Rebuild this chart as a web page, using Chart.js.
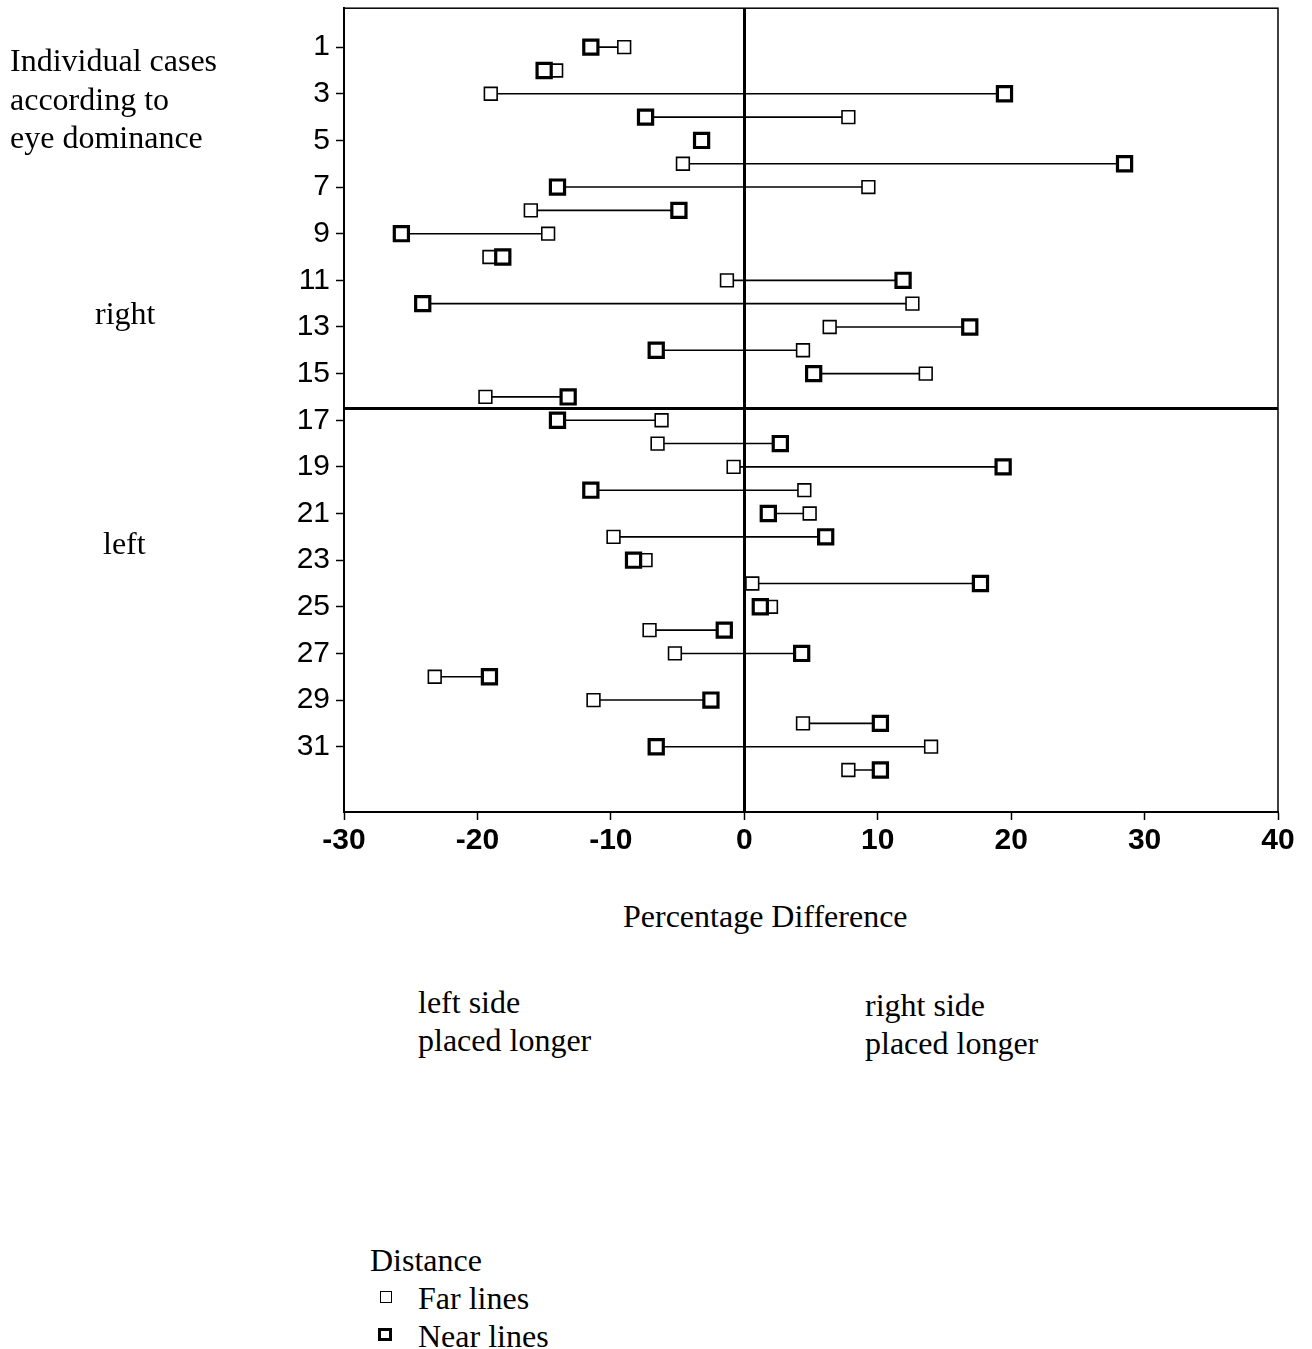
<!DOCTYPE html>
<html lang="en">

<head>
  <meta charset="UTF-8">
  <title>Percentage Difference by Case</title>
  <script src="https://cdn.jsdelivr.net/npm/chart.js"></script>
  <style>
    body { margin: 0; background: #fff; }
    #wrap { position: relative; width: 1312px; height: 1349px; overflow: hidden; }
    #chart { position: absolute; left: 0; top: -5px; }
    .lbl { position: absolute; font-family: 'Liberation Serif', 'Times New Roman', serif; font-size: 32px; line-height: 32px; color: #000; white-space: nowrap; }
    .mark { position: absolute; box-sizing: border-box; border: 1.5px solid #000; background: #fff; }
  </style>
</head>

<body>
  <div id="wrap">
    <canvas id="chart" width="1312" height="885"></canvas>

    <div class="lbl" style="left:10px;top:44px">Individual cases</div>
    <div class="lbl" style="left:10px;top:83px">according to</div>
    <div class="lbl" style="left:10px;top:121px">eye dominance</div>
    <div class="lbl" style="left:95px;top:297px">right</div>
    <div class="lbl" style="left:103px;top:527px">left</div>

    <div class="lbl" style="left:623px;top:900px">Percentage Difference</div>

    <div class="lbl" style="left:418px;top:986px">left side</div>
    <div class="lbl" style="left:418px;top:1024px">placed longer</div>
    <div class="lbl" style="left:865px;top:989px">right side</div>
    <div class="lbl" style="left:865px;top:1027px">placed longer</div>

    <div class="lbl" style="left:370px;top:1244px">Distance</div>
    <span class="mark" style="left:380px;top:1291px;width:12px;height:12px"></span>
    <div class="lbl" style="left:418px;top:1282px">Far lines</div>
    <span class="mark" style="left:378px;top:1328px;width:14px;height:13px;border-width:3px"></span>
    <div class="lbl" style="left:418px;top:1320px">Near lines</div>
  </div>

  <script>
    // case numbers (rows, top to bottom)
    const cases = [1, 2, 3, 4, 5, 6, 7, 8, 9, 10, 11, 12, 13, 14, 15, 16,
      17, 18, 19, 20, 21, 22, 23, 24, 25, 26, 27, 28, 29, 30, 31, 32];

    // percentage difference, far lines
    const farLines = [-9.0, -14.1, -19.0, 7.8, -3.3, -4.6, 9.3, -16.0, -14.7, -19.1, -1.3, 12.6, 6.4, 4.4, 13.6, -19.4,
      -6.2, -6.5, -0.8, 4.5, 4.9, -9.8, -7.4, 0.6, 2.0, -7.1, -5.2, -23.2, -11.3, 4.4, 14.0, 7.8];

    // percentage difference, near lines
    const nearLines = [-11.5, -15.0, 19.5, -7.4, -3.2, 28.5, -14.0, -4.9, -25.7, -18.1, 11.9, -24.1, 16.9, -6.6, 5.2, -13.2,
      -14.0, 2.7, 19.4, -11.5, 1.8, 6.1, -8.3, 17.7, 1.2, -1.5, 4.3, -19.1, -2.5, 10.2, -6.6, 10.2];

    const yTickLabels = [1, 3, 5, 7, 9, 11, 13, 15, 17, 19, 21, 23, 25, 27, 29, 31];
    const xTickLabels = [-30, -20, -10, 0, 10, 20, 30, 40];

    // split between right-eye and left-eye dominant cases
    const dividerCase = 16.5;

    const connectors = cases.map((c, i) => ({
      data: [{ x: farLines[i], y: c }, { x: nearLines[i], y: c }],
      showLine: true,
      borderColor: '#000',
      borderWidth: 1.6,
      pointRadius: 0,
      order: 3
    }));

    const frame = {
      id: 'frame',
      afterDraw(chart) {
        const { ctx, chartArea: a } = chart;
        ctx.save();
        ctx.strokeStyle = '#000';
        ctx.lineWidth = 1.5;
        ctx.strokeRect(a.left, a.top, a.right - a.left, a.bottom - a.top);
        ctx.restore();
      }
    };

    new Chart(document.getElementById('chart'), {
      type: 'scatter',
      data: {
        datasets: [
          ...connectors,
          {
            label: 'Divider',
            data: [{ x: -30, y: dividerCase }, { x: 40, y: dividerCase }],
            showLine: true,
            borderColor: '#000',
            borderWidth: 3,
            pointRadius: 0,
            order: 4
          },
          {
            label: 'Far lines',
            data: cases.map((c, i) => ({ x: farLines[i], y: c })),
            pointStyle: 'rect',
            pointRadius: 9,
            pointBackgroundColor: '#fff',
            pointBorderColor: '#000',
            pointBorderWidth: 1.6,
            order: 2
          },
          {
            label: 'Near lines',
            data: cases.map((c, i) => ({ x: nearLines[i], y: c })),
            pointStyle: 'rect',
            pointRadius: 10,
            pointBackgroundColor: '#fff',
            pointBorderColor: '#000',
            pointBorderWidth: 3.2,
            order: 1
          }
        ]
      },
      options: {
        responsive: false,
        animation: false,
        events: [],
        layout: { padding: { top: 3, right: 34, left: 0, bottom: 0 } },
        plugins: { legend: { display: false }, tooltip: { enabled: false } },
        scales: {
          x: {
            type: 'linear',
            min: -30,
            max: 40,
            afterBuildTicks: s => { s.ticks = xTickLabels.map(v => ({ value: v })); },
            afterFit: s => { s.height = 68; s.paddingLeft = 0; s.paddingRight = 0; },
            border: { display: true, color: '#000', width: 2 },
            grid: {
              color: c => c.tick && c.tick.value === 0 ? '#000' : 'rgba(0,0,0,0)',
              lineWidth: c => c.tick && c.tick.value === 0 ? 3 : 1,
              tickColor: '#000',
              tickWidth: 1.5,
              tickLength: 8
            },
            ticks: {
              color: '#000',
              padding: 3,
              maxRotation: 0,
              font: { family: 'Liberation Sans', size: 30, weight: 'bold' }
            }
          },
          y: {
            type: 'linear',
            reverse: true,
            min: -0.67,
            max: 33.8,
            afterBuildTicks: s => { s.ticks = yTickLabels.map(v => ({ value: v })); },
            afterFit: s => { s.width = 344; s.paddingTop = 0; s.paddingBottom = 0; },
            border: { display: true, color: '#000', width: 2 },
            grid: {
              drawOnChartArea: false,
              tickColor: '#000',
              tickWidth: 1.5,
              tickLength: 8
            },
            ticks: {
              color: '#000',
              padding: 6,
              font: { family: 'Liberation Sans', size: 30 }
            }
          }
        }
      },
      plugins: [frame]
    });
  </script>
</body>

</html>
